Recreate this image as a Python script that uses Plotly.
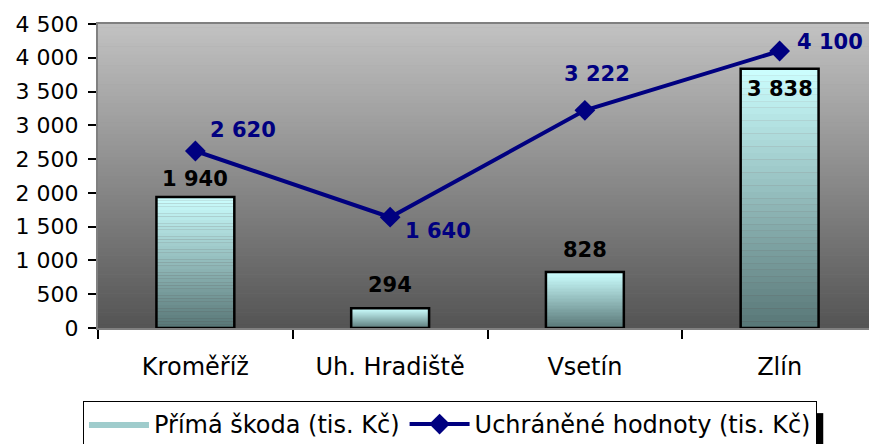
import plotly.graph_objects as go

categories = ["Kroměříž", "Uh. Hradiště", "Vsetín", "Zlín"]
prima_skoda = [1940, 294, 828, 3838]
uchranene = [2620, 1640, 3222, 4100]
bar_name = "Přímá škoda (tis. Kč)"
line_name = "Uchráněné hodnoty (tis. Kč)"
y_ticks = [0, 500, 1000, 1500, 2000, 2500, 3000, 3500, 4000, 4500]

def fmt(v):
    return f"{v:,}".replace(",", " ")

def lerp(c1, c2, t):
    return "rgb(%d,%d,%d)" % tuple(round(a + (b - a) * t) for a, b in zip(c1, c2))

fig = go.Figure()

# gradient bars: split each bar into thin slices
N = 40
top_c = (204, 255, 255)
bot_c = (88, 118, 118)
for k in range(N):
    t = (k + 0.5) / N
    fig.add_trace(go.Bar(
        x=categories,
        y=[v / N for v in prima_skoda],
        base=[v * k / N for v in prima_skoda],
        width=0.4,
        marker=dict(color=lerp(bot_c, top_c, t), line=dict(width=0)),
        showlegend=False, hoverinfo="skip",
    ))
# outline
fig.add_trace(go.Bar(
    x=categories, y=prima_skoda, width=0.4,
    marker=dict(color="rgba(0,0,0,0)", line=dict(color="black", width=2.5)),
    showlegend=False, hoverinfo="skip",
))
# legend entry for bars (filled swatch)
fig.add_trace(go.Scatter(
    x=[None], y=[None], name=bar_name, mode="lines", fill="toself",
    fillcolor="#9fcccc", line=dict(color="rgba(0,0,0,0)", width=0),
    showlegend=True,
))
fig.add_trace(go.Scatter(
    x=categories, y=uchranene, name=line_name, mode="lines+markers",
    line=dict(color="#000080", width=4),
    marker=dict(symbol="diamond", size=16, color="#000080"),
))

# background gradient bands
B = 80
g_top = (194, 194, 194)
g_bot = (84, 84, 84)
shapes = []
for k in range(B):
    t = (k + 0.5) / B
    shapes.append(dict(type="rect", xref="paper", yref="paper",
                       x0=0, x1=1, y0=k / B, y1=(k + 1) / B + 0.002,
                       fillcolor=lerp(g_bot, g_top, t), line=dict(width=0),
                       layer="below"))
# legend shadow
shapes.append(dict(type="rect", xref="paper", yref="paper",
                   x0=0.923, x1=0.931, y0=-0.28, y1=-0.385,
                   fillcolor="black", line=dict(width=0), layer="above"))
# legend swatch outline
shapes.append(dict(type="rect", xref="paper", yref="paper",
                   x0=-0.0103, x1=0.0629, y0=-0.2993, y1=-0.3322,
                   fillcolor="rgba(0,0,0,0)", line=dict(color="black", width=2.5),
                   layer="above"))

annotations = []
bar_lbl_shift = [4, 9, 8, -6]
bar_lbl_anchor = ["bottom", "bottom", "bottom", "top"]
for c, v, ys, ya in zip(categories, prima_skoda, bar_lbl_shift, bar_lbl_anchor):
    annotations.append(dict(x=c, y=v, text=fmt(v), showarrow=False, yanchor=ya,
                            yshift=ys, font=dict(family="DejaVu Sans", size=21,
                                                 color="black", weight="bold")))
line_xs = [48, 48, 12, 50]
line_ys = [21, -14, 36, 9]
for c, v, xs, ys in zip(categories, uchranene, line_xs, line_ys):
    annotations.append(dict(x=c, y=v, text=fmt(v), showarrow=False,
                            xshift=xs, yshift=ys,
                            font=dict(family="DejaVu Sans", size=21,
                                      color="#000080", weight="bold")))

fig.update_layout(
    width=869, height=436,
    margin=dict(l=90, r=0, t=16, b=116, autoexpand=False),
    paper_bgcolor="white", plot_bgcolor="#8a8a8a",
    barmode="overlay", bargap=0.6,
    separators=", ",
    font=dict(family="DejaVu Sans", size=22, color="black"),
    shapes=shapes, annotations=annotations,
    showlegend=True,
    legend=dict(orientation="h", x=0.5086, xref="container", xanchor="center",
                y=(436 - 393) / 436, yref="container", yanchor="top",
                bordercolor="black", borderwidth=1, bgcolor="white",
                font=dict(family="DejaVu Sans", size=24), traceorder="normal",
                itemwidth=60),
)
fig.update_xaxes(
    type="category", tickson="boundaries", ticks="outside", ticklen=9,
    tickcolor="black", tickwidth=1.5, showline=True, linecolor="#808080",
    linewidth=2, mirror=True, showgrid=False, ticklabelstandoff=16,
    tickfont=dict(family="DejaVu Sans", size=24),
)
fig.update_yaxes(
    range=[0, 4500], tickvals=y_ticks, tickformat=",d", ticks="outside", ticklen=8,
    tickcolor="black", tickwidth=1.5, showline=True, linecolor="#808080",
    linewidth=2, mirror=True, showgrid=False, zeroline=False, ticklabelstandoff=5,
    tickfont=dict(family="DejaVu Sans", size=22),
)

fig.write_html("out.html")
